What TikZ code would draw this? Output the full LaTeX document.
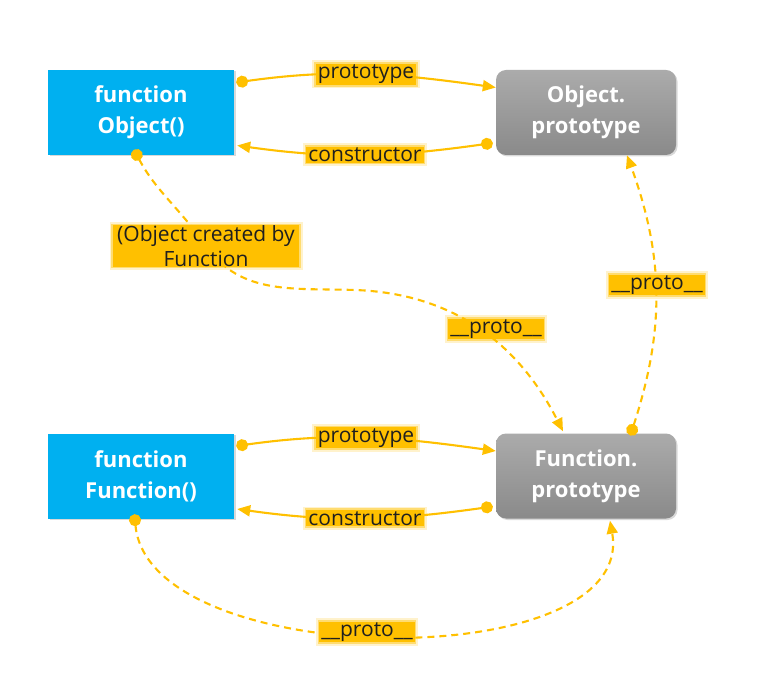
\documentclass[tikz,border=0pt]{standalone}
\usepackage{fontspec}
\setmainfont{Open Sans}
\usetikzlibrary{arrows.meta,shadows}
\definecolor{lblue}{HTML}{00B0F0}
\definecolor{lyel}{HTML}{FFC000}
\definecolor{gtop}{HTML}{ABABAB}
\definecolor{gbot}{HTML}{8A8A8A}
\begin{document}
\begin{tikzpicture}[x=1pt,y=1pt,
  boxfont/.style={text=white, font=\fontsize{22}{31}\selectfont\bfseries, align=center},
  bluebox/.style={boxfont, fill=lblue, minimum width=186pt, minimum height=85pt,
    drop shadow={opacity=0.3,shadow xshift=1.5pt,shadow yshift=-1.5pt}},
  graybox/.style={boxfont, top color=gtop, bottom color=gbot, rounded corners=10pt,
    minimum width=180pt, minimum height=85pt,
    drop shadow={opacity=0.3,shadow xshift=1.5pt,shadow yshift=-1.5pt}},
  lbl/.style={fill=lyel,
    preaction={draw=lyel, line width=7pt, draw opacity=0.2},
    preaction={draw=lyel, line width=3.5pt, draw opacity=0.45},
    inner xsep=2pt, inner ysep=1pt,
    font=\fontsize{21}{25}\selectfont, text=black!88},
  link/.style={draw=lyel, line width=2.1pt, {Circle[length=12pt]}-{Triangle[length=13pt,width=11pt]}},
  dlink/.style={link, dash pattern=on 7pt off 5pt}
]
\useasboundingbox (0,0) rectangle (775,683);

% boxes
\node[bluebox] (obj) at (141,570.5) {function\\Object()};
\node[graybox] (op) at (586,570.5) {Object.\\prototype};
\node[bluebox] (fn) at (141,207) {function\\Function()};
\node[graybox] (fp) at (586,207) {Function.\\prototype};

% top pair
\draw[link] ([shift={(2,30)}]obj.east) to[out=8,in=172]
  node[lbl] (p1) {prototype} ([yshift=25]op.west);
\draw[link] ([shift={(-3,-30.5)}]op.west) to[out=188,in=-8]
  node[lbl] (c1) {constructor} ([shift={(3,-33)}]obj.east);

% bottom pair
\draw[link] ([shift={(2,30)}]fn.east) to[out=8,in=172]
  node[lbl] (p2) {prototype} ([yshift=25]fp.west);
\draw[link] ([shift={(-3,-30.5)}]fp.west) to[out=188,in=-8]
  node[lbl] (c2) {constructor} ([shift={(3,-33)}]fn.east);

% long dashed: Object() -> Function.prototype
\coordinate (mid) at (355,393);
\coordinate (lc) at (206,437);
\draw[dlink] ([shift={(-7,5.5)}]obj.south) to[out=-62,in=125] (lc)
  to[out=-55,in=178] (mid) to[out=-2,in=117] ([shift={(-23,2)}]fp.north);

% right dashed: Function.prototype -> Object.prototype
\draw[dlink] ([shift={(44.3,-2.2)}]fp.north) to[out=72,in=-70] ([xshift=41]op.south);

% bottom dashed: Function() -> Function.prototype
\draw[dlink] ([shift={(-6.5,4.5)}]fn.south) to[out=-85,in=-80,looseness=0.85] ([shift={(24,-2)}]fp.south);

% labels on dashed lines
\node[lbl, align=center, minimum width=186pt, inner ysep=0pt] (l1) at (lc) {(Object created by\\Function};
\node[lbl] (l2) at (496,354) {\_\_proto\_\_};
\node[lbl] (l3) at (657,398) {\_\_proto\_\_};
\node[lbl] (l4) at (367,51) {\_\_proto\_\_};
\end{tikzpicture}
\end{document}
